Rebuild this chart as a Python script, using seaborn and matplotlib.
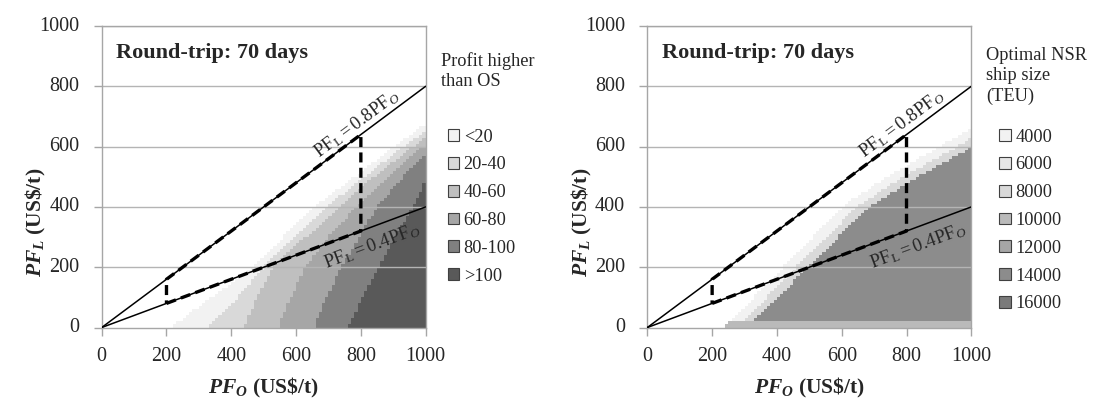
import numpy as np
import pandas as pd
import matplotlib
matplotlib.use('Agg')
import matplotlib.pyplot as plt
from matplotlib.colors import ListedColormap
from matplotlib.patches import Patch
import seaborn as sns

# fuel price grid (US$/t), one cell per 10 US$/t
step = 10
pf_o = np.arange(0, 1000, step) + step / 2
pf_l = np.arange(0, 1000, step) + step / 2

edge_y = [0, 100, 200, 300, 400, 500, 600, 700]

# left panel: PF_O where each profit band starts, per level in edge_y
profit_labels = ['<20', '20-40', '40-60', '60-80', '80-100', '>100']
profit_colors = ['#f2f2f2', '#d9d9d9', '#bfbfbf', '#a6a6a6', '#808080', '#595959']
profit_edges = [
    [215, 340, 470, 560, 655, 780, 900, 1030],
    [325, 420, 500, 600, 694, 810, 930, 1060],
    [440, 480, 530, 630, 735, 840, 960, 1090],
    [545, 585, 627, 700, 785, 880, 990, 1110],
    [655, 695, 741, 795, 849, 930, 1030, 1150],
    [762, 805, 854, 905, 962, 1005, 1100, 1200],
]

# right panel: optimal NSR ship size
size_labels = ['4000', '6000', '8000', '10000', '12000', '14000', '16000']
size_colors = ['#f2f2f2', '#e6e6e6', '#d9d9d9', '#bababa', '#a6a6a6', '#8c8c8c', '#7a7a7a']
size_regions = ['4000', '8000', '14000']
size_edges = [
    [240, 330, 420, 510, 600, 740, 900, 1060],
    [275, 370, 460, 555, 645, 790, 955, 1115],
    [310, 405, 495, 590, 685, 835, 1000, 1170],
]
strip_size = '10000'
strip_top = 25

# route constraints PF_L = k * PF_O and the studied PF_O range
ratios = [0.4, 0.8]
range_o = [200, 800]
ticks = [0, 200, 400, 600, 800, 1000]


def band_grid(edges, codes, strip=None):
    X, Y = np.meshgrid(pf_o, pf_l)
    grid = np.zeros(X.shape, dtype=int)
    for code, e in zip(codes, edges):
        grid[X >= np.interp(Y, edge_y, e)] = code
    if strip is not None:
        code, top = strip
        grid[(Y < top) & (X >= np.interp(Y, edge_y, edges[0]))] = code
    return pd.DataFrame(grid, index=pf_l, columns=pf_o)


def c(v):
    # data value -> heatmap cell coordinate
    return np.asarray(v, dtype=float) / step


sns.set_theme(style='white')
plt.rcParams['font.family'] = ['Liberation Serif', 'DejaVu Serif']
plt.rcParams['mathtext.fontset'] = 'custom'
plt.rcParams['mathtext.rm'] = 'Liberation Serif'
plt.rcParams['mathtext.it'] = 'Liberation Serif:italic:bold'
plt.rcParams['mathtext.sf'] = 'Liberation Serif:italic'

fig = plt.figure(figsize=(11.03, 4.07), dpi=100)
ax1 = fig.add_axes([0.0922, 0.1953, 0.2937, 0.7408])
ax2 = fig.add_axes([0.5869, 0.1953, 0.2937, 0.7408])

grid1 = band_grid(profit_edges, range(1, len(profit_labels) + 1))
codes2 = [size_labels.index(s) + 1 for s in size_regions]
grid2 = band_grid(size_edges, codes2, strip=(size_labels.index(strip_size) + 1, strip_top))

panels = [
    (ax1, grid1, profit_colors, profit_labels, 'Profit higher\nthan OS', 1.047, 0.915, 1.068),
    (ax2, grid2, size_colors, size_labels, 'Optimal NSR\nship size\n(TEU)', 1.045, 0.93, 1.087),
]

for ax, grid, colors, labels, leg_title, tx, ty, lx in panels:
    cmap = ListedColormap(['white'] + colors)
    sns.heatmap(grid, cmap=cmap, vmin=-0.5, vmax=len(colors) + 0.5, cbar=False,
                ax=ax, linewidths=0, rasterized=True)
    ax.set_xlim(0, len(pf_o))
    ax.set_ylim(0, len(pf_l))

    for s in ax.spines.values():
        s.set_visible(True)
        s.set_color('#a6a6a6')
        s.set_linewidth(1)
    for v in ticks[1:]:
        ax.axhline(c(v), color='#b4b4b4', lw=1, zorder=2)

    # PF_L = 0.4 PF_O and 0.8 PF_O
    for k in ratios:
        ax.plot(c([0, 1000]), c([0, 1000 * k]), color='black', lw=1.1, zorder=4)
    lo, hi = range_o
    px = [lo, hi, hi, lo, lo]
    py = [ratios[0] * lo, ratios[0] * hi, ratios[1] * hi, ratios[1] * lo, ratios[0] * lo]
    ax.plot(c(px), c(py), color='black', lw=2.4, ls=(0, (3, 1.6)), zorder=5)

    ang_hi = np.degrees(np.arctan(ratios[1]))
    ang_lo = np.degrees(np.arctan(ratios[0]))
    ax.text(c(805), c(ratios[1] * 805 + 6), r'$\mathrm{PF}_\mathrm{L}\mathrm{=0.8PF}_\mathsf{O}$',
            rotation=ang_hi, transform_rotates_text=True, rotation_mode='anchor',
            ha='center', va='bottom', fontsize=13.5, zorder=6)
    ax.text(c(825), c(ratios[0] * 825 - 30), r'$\mathrm{PF}_\mathrm{L}\mathrm{=0.4PF}_\mathsf{O}$',
            rotation=ang_lo, transform_rotates_text=True, rotation_mode='anchor',
            ha='center', va='top', fontsize=13.5, zorder=6)

    ax.text(0.045, 0.912, 'Round-trip: 70 days', transform=ax.transAxes,
            fontsize=16, fontweight='bold', va='center', ha='left')

    ax.set_xticks(c(ticks))
    ax.set_xticklabels(ticks, rotation=0)
    ax.set_yticks(c(ticks))
    ax.set_yticklabels(ticks, rotation=0)
    ax.tick_params(axis='both', which='major', labelsize=14.5, length=6, width=1,
                   color='#a6a6a6', direction='out', bottom=True, left=True)
    ax.tick_params(axis='y', pad=10)
    ax.tick_params(axis='x', pad=8)

    ax.set_xlabel(r'$PF_O$ (US\$/t)', fontsize=15.5, fontweight='bold')
    ax.set_ylabel(r'$PF_L$ (US\$/t)', fontsize=15.5, fontweight='bold')
    ax.xaxis.set_label_coords(0.5, -0.16)
    ax.yaxis.set_label_coords(-0.165, 0.35)

    ax.text(tx, ty, leg_title, transform=ax.transAxes, fontsize=13.2,
            va='top', ha='left', linespacing=1.25)
    handles = [Patch(facecolor=col, edgecolor='#404040', linewidth=0.8) for col in colors]
    ax.legend(handles, labels, loc='upper left', bbox_to_anchor=(lx, 0.66),
              frameon=False, fontsize=13.2, handlelength=0.62, handleheight=0.62,
              handletextpad=0.25, labelspacing=0.59, borderaxespad=0, borderpad=0)

fig.savefig('out.png', dpi=100)
